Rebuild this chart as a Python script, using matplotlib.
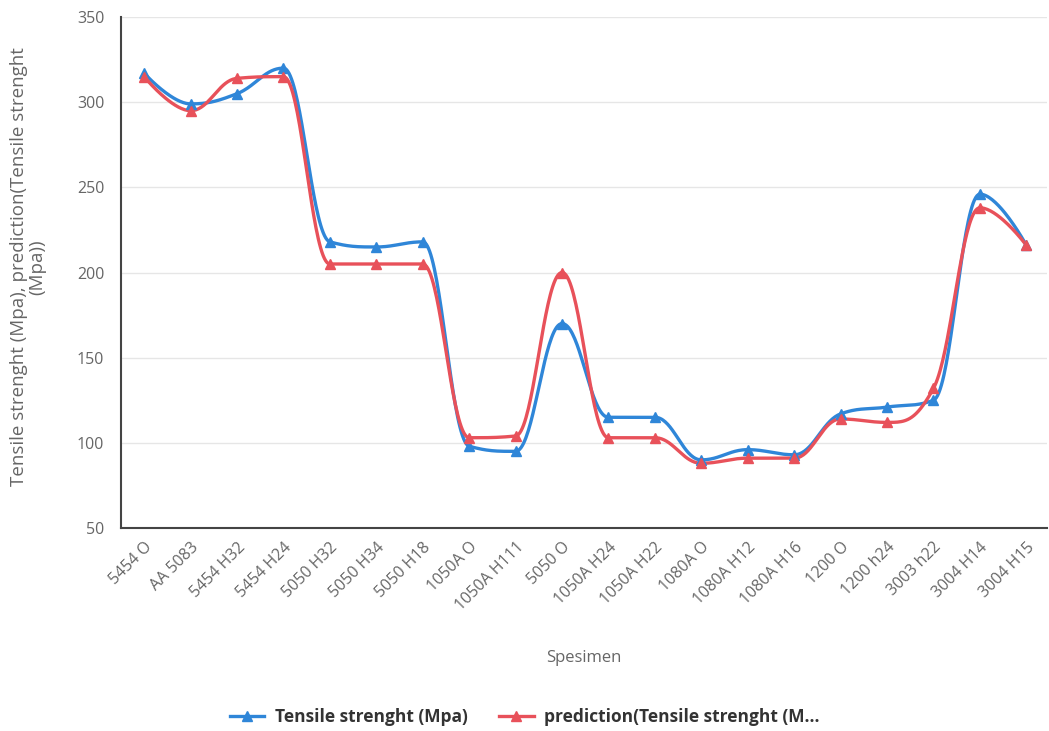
import numpy as np
import matplotlib.pyplot as plt
from matplotlib.lines import Line2D

specimens = ['5454 O', 'AA 5083', '5454 H32', '5454 H24', '5050 H32', '5050 H34', '5050 H18',
             '1050A O', '1050A H111', '5050 O', '1050A H24', '1050A H22', '1080A O', '1080A H12',
             '1080A H16', '1200 O', '1200 h24', '3003 h22', '3004 H14', '3004 H15']
tensile = [317, 299, 305, 320, 218, 215, 218, 98, 95, 170, 115, 115, 90, 96, 93, 117, 121, 125, 246, 216]
prediction = [315, 295, 314, 315, 205, 205, 205, 103, 104, 200, 103, 103, 88, 91, 91, 114, 112, 132, 238, 216]

blue = '#2f86d8'
red = '#e8515a'


def spline(xs, ys, smoothing=1.5, n=40):
    # highcharts-style spline through the points
    xs = np.asarray(xs, float)
    ys = np.asarray(ys, float)
    m = len(xs)
    lc = [(xs[0], ys[0])]
    rc = [(xs[0], ys[0])]
    for i in range(1, m - 1):
        px, py = xs[i], ys[i]
        lx, ly = xs[i - 1], ys[i - 1]
        nx, ny = xs[i + 1], ys[i + 1]
        d = smoothing + 1
        lcx = (smoothing * px + lx) / d
        lcy = (smoothing * py + ly) / d
        rcx = (smoothing * px + nx) / d
        rcy = (smoothing * py + ny) / d
        corr = 0.0
        if rcx != lcx:
            corr = (rcy - lcy) * (rcx - px) / (rcx - lcx) + py - rcy
        lcy += corr
        rcy += corr
        if lcy > ly and lcy > py:
            lcy = max(ly, py)
            rcy = 2 * py - lcy
        elif lcy < ly and lcy < py:
            lcy = min(ly, py)
            rcy = 2 * py - lcy
        if rcy > ny and rcy > py:
            rcy = max(ny, py)
            lcy = 2 * py - rcy
        elif rcy < ny and rcy < py:
            rcy = min(ny, py)
            lcy = 2 * py - rcy
        lc.append((lcx, lcy))
        rc.append((rcx, rcy))
    lc.append((xs[-1], ys[-1]))
    rc.append((xs[-1], ys[-1]))
    t = np.linspace(0, 1, n)[:, None]
    out = []
    for i in range(1, m):
        p0 = np.array([xs[i - 1], ys[i - 1]])
        p1 = np.array(rc[i - 1])
        p2 = np.array(lc[i])
        p3 = np.array([xs[i], ys[i]])
        seg = (1 - t) ** 3 * p0 + 3 * (1 - t) ** 2 * t * p1 + 3 * (1 - t) * t ** 2 * p2 + t ** 3 * p3
        out.append(seg if i == 1 else seg[1:])
    out = np.vstack(out)
    return out[:, 0], out[:, 1]


plt.rcParams['font.family'] = ['Open Sans', 'DejaVu Sans']

fig = plt.figure(figsize=(10.49, 7.31), dpi=100)
ax = fig.add_axes([0.1153, 0.2777, 0.883, 0.699])

x = np.arange(len(specimens))
for vals, col in [(tensile, blue), (prediction, red)]:
    sx, sy = spline(x, vals)
    ax.plot(sx, sy, color=col, linewidth=2.4, zorder=3)
    ax.plot(x, vals, linestyle='none', marker='^', markersize=7.5, color=col, zorder=4)

ax.set_ylim(50, 350)
ax.set_yticks(range(50, 351, 50))
ax.set_xlim(-0.5, len(specimens) - 0.55)
ax.set_xticks(x)
ax.set_xticklabels(specimens, rotation=45, ha='right', rotation_mode='anchor')

ax.grid(axis='y', color='#e6e6e6', linewidth=1)
ax.set_axisbelow(True)
for s in ['top', 'right']:
    ax.spines[s].set_visible(False)
ax.spines['left'].set_color('#444444')
ax.spines['bottom'].set_color('#444444')
ax.spines['left'].set_linewidth(1.5)
ax.spines['bottom'].set_linewidth(1.5)
ax.tick_params(length=0, colors='#666666', labelsize=11.5)
ax.tick_params(axis='y', pad=12)
ax.tick_params(axis='x', pad=8)

ax.set_xlabel('Spesimen', fontsize=12, color='#666666', labelpad=26)
fig.text(0.027, 0.635, 'Tensile strenght (Mpa), prediction(Tensile strenght\n(Mpa))',
         rotation=90, ha='center', va='center', fontsize=13.5, color='#666666', linespacing=1.0)

handles = [Line2D([], [], color=blue, marker='^', markersize=7.5, linewidth=2.4),
           Line2D([], [], color=red, marker='^', markersize=7.5, linewidth=2.4)]
leg = fig.legend(handles, ['Tensile strenght (Mpa)', 'prediction(Tensile strenght (M...'],
                 loc='center', bbox_to_anchor=(0.5, 0.019), ncol=2, frameon=False,
                 prop={'weight': 'bold', 'size': 12.5}, handlelength=2.0, columnspacing=1.8,
                 handletextpad=0.6)
for t in leg.get_texts():
    t.set_color('#333333')

plt.savefig('out.png', dpi=100)
